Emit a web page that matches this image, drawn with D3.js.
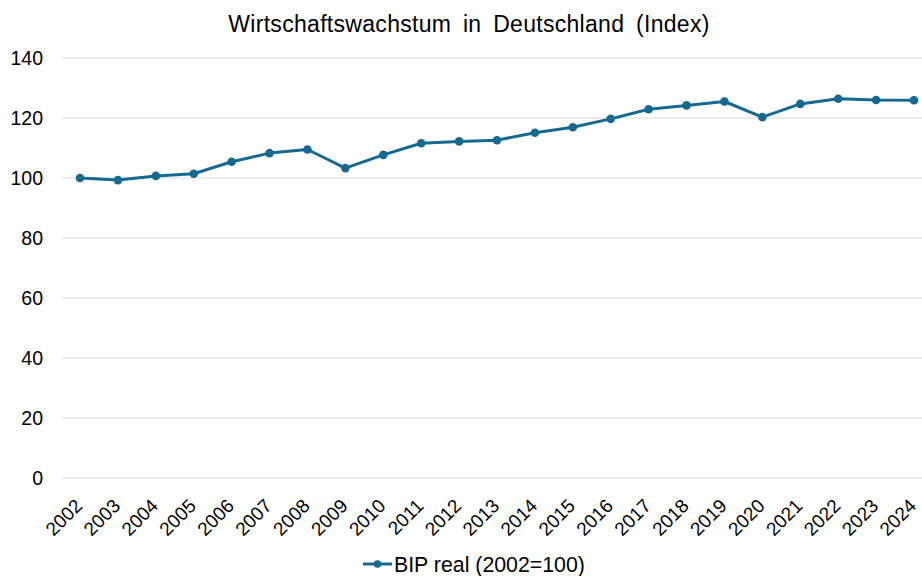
<!DOCTYPE html>
<html>
<head>
<meta charset="utf-8">
<script src="https://cdn.jsdelivr.net/npm/d3@7"></script>
<style>
  body { margin: 0; background: #fff; }
  svg text { font-family: "Liberation Sans", Arial, sans-serif; fill: #000; }
</style>
</head>
<body>
<div id="chart"></div>
<script>
// Jahre und BIP-Index (2002=100)
var years = ["2002","2003","2004","2005","2006","2007","2008","2009","2010","2011","2012",
             "2013","2014","2015","2016","2017","2018","2019","2020","2021","2022","2023","2024"];
var bipReal = [100, 99.3, 100.7, 101.4, 105.4, 108.3, 109.5, 103.3, 107.7, 111.6, 112.2,
               112.6, 115.1, 116.9, 119.7, 122.9, 124.2, 125.5, 120.3, 124.7, 126.4, 126.0, 125.9];
var yTicks = [0, 20, 40, 60, 80, 100, 120, 140];
var seriesName = "BIP real (2002=100)";
var chartTitle = "Wirtschaftswachstum in Deutschland (Index)";

var width = 922, height = 576;
var color = "#18698f";

var svg = d3.select("#chart").append("svg")
    .attr("width", width).attr("height", height);

var x = d3.scalePoint().domain(years).range([80, 914]);
var y = d3.scaleLinear().domain([0, 140]).range([478, 58]);

// title
svg.append("text")
   .attr("x", 469).attr("y", 32)
   .attr("text-anchor", "middle")
   .style("font-size", "23px")
   .style("letter-spacing", "0.3px")
   .style("word-spacing", "5px")
   .text(chartTitle);

// gridlines
svg.append("g").selectAll("line")
   .data(yTicks).enter().append("line")
   .attr("x1", 62).attr("x2", width)
   .attr("y1", function(d){ return y(d); })
   .attr("y2", function(d){ return y(d); })
   .attr("stroke", "#d9d9d9").attr("stroke-width", 1);

// y axis labels
var yAxis = d3.axisLeft(y).tickValues(yTicks).tickSize(0).tickPadding(0);
var gy = svg.append("g").attr("transform", "translate(43,0)").call(yAxis);
gy.select(".domain").remove();
gy.selectAll("text").style("font-size", "19.5px").attr("fill", "#000");

// x axis labels, rotated
var xAxis = d3.axisBottom(x).tickSize(0);
var gx = svg.append("g").attr("transform", "translate(0,478)").call(xAxis);
gx.select(".domain").remove();
gx.selectAll("text")
  .style("font-size", "19px")
  .attr("fill", "#000")
  .attr("text-anchor", "end")
  .attr("x", 0).attr("y", 0)
  .attr("dy", 0)
  .attr("transform", "translate(3,29) rotate(-45)");

// line
var line = d3.line()
    .x(function(d, i){ return x(years[i]); })
    .y(function(d){ return y(d); });
svg.append("path")
   .datum(bipReal)
   .attr("d", line)
   .attr("fill", "none")
   .attr("stroke", color)
   .attr("stroke-width", 3)
   .attr("stroke-linejoin", "round");

svg.append("g").selectAll("circle")
   .data(bipReal).enter().append("circle")
   .attr("cx", function(d, i){ return x(years[i]); })
   .attr("cy", function(d){ return y(d); })
   .attr("r", 4.3)
   .attr("fill", color);

// legend
var lg = svg.append("g").attr("transform", "translate(363,564)");
lg.append("line").attr("x1", 0).attr("x2", 29).attr("y1", 0).attr("y2", 0)
  .attr("stroke", color).attr("stroke-width", 3);
lg.append("circle").attr("cx", 14.5).attr("cy", 0).attr("r", 3.8).attr("fill", color);
lg.append("text").attr("x", 31).attr("y", 7.5)
  .style("font-size", "21.3px")
  .text(seriesName);
</script>
</body>
</html>
